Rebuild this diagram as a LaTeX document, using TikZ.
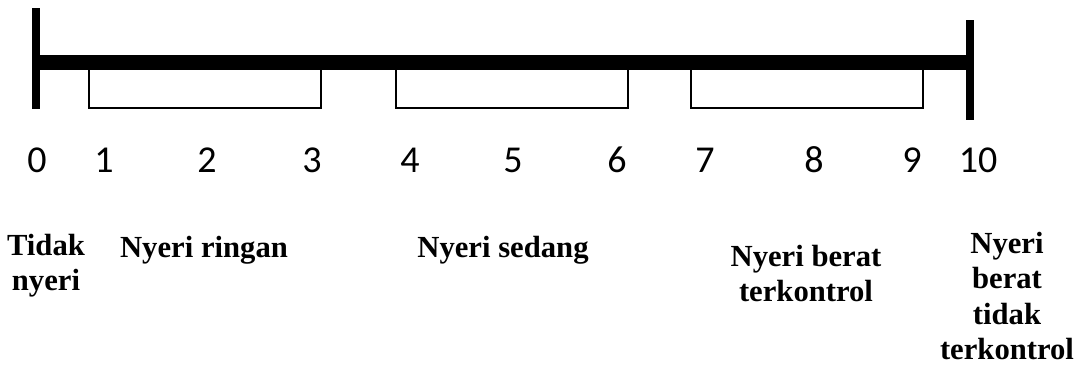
\documentclass[tikz,border=0pt]{standalone}
\usepackage{fontspec}
\setmainfont{Liberation Serif}
\newfontfamily\numfont{Carlito}
\begin{document}
\begin{tikzpicture}[x=0.75pt,y=-0.75pt,
  axisbar/.style={line width=11.5pt},
  endtick/.style={line width=6pt},
  bracket/.style={line width=2.2pt},
  tickno/.style={font=\numfont\fontsize{28.5}{30}\selectfont, inner sep=0pt, anchor=base},
  rangelabel/.style={font=\bfseries\fontsize{23}{26.5}\selectfont, align=center, inner sep=0pt, anchor=north}]
\useasboundingbox (0,0) rectangle (1075,369);

% scale ends
\coordinate (L) at (36,62.5);
\coordinate (R) at (970,62.5);
\coordinate (Ltop) at (36,8);
\coordinate (Lbot) at (36,109);
\coordinate (Rtop) at (970,20);
\coordinate (Rbot) at (970,120);

% main bar and end ticks
\draw[axisbar] (L) -- (R);
\draw[endtick] (Ltop) -- (Lbot);
\draw[endtick] (Rtop) -- (Rbot);

% range brackets under the bar
\draw[bracket] (89,69) -- (89,108) -- (321,108) -- (321,69);
\draw[bracket] (396,69) -- (396,108) -- (628,108) -- (628,69);
\draw[bracket] (691,69) -- (691,108) -- (923,108) -- (923,69);

% numbers
\node[tickno] (n0) at (37,172) {0};
\node[tickno] (n1) at (104,172) {1};
\node[tickno] (n2) at (207,172) {2};
\node[tickno] (n3) at (312,172) {3};
\node[tickno] (n4) at (410,172) {4};
\node[tickno] (n5) at (513,172) {5};
\node[tickno] (n6) at (617,172) {6};
\node[tickno] (n7) at (705,172) {7};
\node[tickno] (n8) at (814,172) {8};
\node[tickno] (n9) at (912,172) {9};
\node[tickno] (n10) at (978,172) {10};

% category labels
\node[rangelabel] (c0) at (46,234) {Tidak\\nyeri};
\node[rangelabel] (c1) at (204,236) {Nyeri ringan};
\node[rangelabel] (c2) at (503,236) {Nyeri sedang};
\node[rangelabel] (c3) at (806,245) {Nyeri berat\\terkontrol};
\node[rangelabel] (c4) at (1007,232) {Nyeri\\berat\\tidak\\terkontrol};
\end{tikzpicture}
\end{document}
